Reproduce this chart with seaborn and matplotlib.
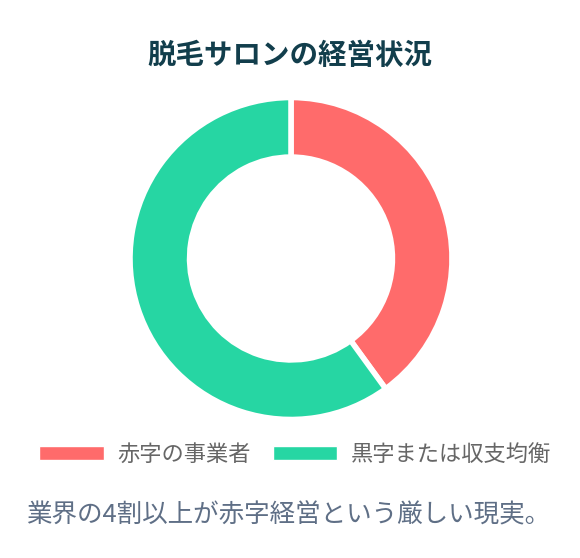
import seaborn as sns
import matplotlib.pyplot as plt
from matplotlib.patches import Patch

# data
labels = ['赤字の事業者', '黒字または収支均衡']
shares = [40, 60]
colors = ['#FF6B6B', '#26D6A3']
title = '脱毛サロンの経営状況'
caption = '業界の4割以上が赤字経営という厳しい現実。'

sns.set_theme(style='white')
plt.rcParams['font.family'] = ['Noto Sans CJK JP', 'DejaVu Sans']

W, H = 580, 558
fig = plt.figure(figsize=(W / 100, H / 100), dpi=100)
fig.patch.set_facecolor('white')

# donut axes, placed in pixels
cx, cy, r = 291, 258.5, 161
ax = fig.add_axes([(cx - r) / W, (H - cy - r) / H, 2 * r / W, 2 * r / H])
ax.pie(shares, colors=colors, startangle=90, counterclock=False,
       wedgeprops=dict(width=0.37, edgecolor='white', linewidth=4))
ax.set_xlim(-1, 1)
ax.set_ylim(-1, 1)
ax.set_aspect('equal')
ax.axis('off')

fig.text(290 / W, 1 - 56 / H, title, ha='center', va='center',
         fontsize=20.5, fontweight='bold', color='#123E4C')

handles = [Patch(facecolor=c, edgecolor='white', label=l) for c, l in zip(colors, labels)]
fig.legend(handles=handles, loc='center', bbox_to_anchor=(295 / W, 1 - 454 / H),
           ncol=2, frameon=False, fontsize=16, labelcolor='#666666',
           handlelength=2.9, handleheight=0.6, handletextpad=0.6,
           columnspacing=1.0, borderpad=0)

fig.text(288 / W, 1 - 515 / H, caption, ha='center', va='center',
         fontsize=18.4, color='#5F6F86')

fig.savefig('out.png', dpi=100, facecolor='white')
